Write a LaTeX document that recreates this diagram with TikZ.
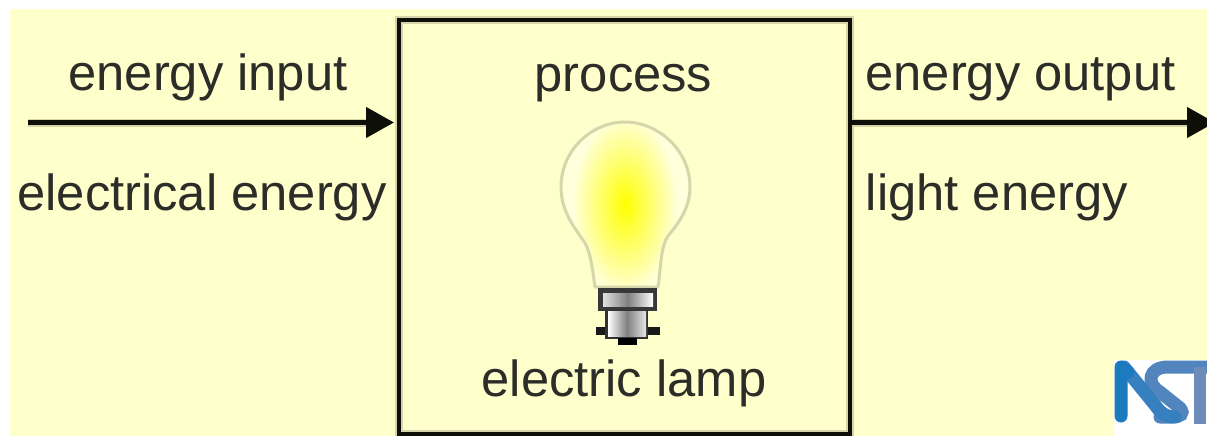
\documentclass[tikz,border=0pt]{standalone}
\usepackage{fontspec}
\setmainfont{Liberation Sans}
\usetikzlibrary{arrows.meta}
\definecolor{paper}{RGB}{255,255,204}
\definecolor{ink}{RGB}{15,15,10}
\definecolor{halo}{RGB}{214,212,168}
\definecolor{logoA}{RGB}{28,122,190}
\definecolor{logoB}{RGB}{55,128,192}
\definecolor{logoC}{RGB}{82,133,190}
\definecolor{logoD}{RGB}{110,140,185}
\tikzset{
  x=1pt,y=-1pt,
  lbl/.style={font=\fontsize{50.7}{55}\selectfont,text=ink!88!white,inner sep=0pt,anchor=base},
  flow/.style={line width=4.6pt,draw=ink,-{Triangle[length=28pt,width=30pt]}},
  flowhalo/.style={line width=8pt,draw=halo},
  boxed/.style={draw=ink,line width=4pt,inner sep=0pt,minimum width=451pt,minimum height=414pt},
  boxhalo/.style={draw=halo,line width=8pt},
  bulbline/.style={draw=black!16!paper,line width=3pt,line join=round},
}
\begin{document}
\begin{tikzpicture}
\useasboundingbox (0,0) rectangle (1207,436);
\fill[white] (0,0) rectangle (1207,436);
\fill[paper] (10,9) rectangle (1207,436);
% process box
\draw[boxhalo] (399,20) rectangle (850,434);
\node[boxed] (box) at (624.5,227) {};
% labels
\node[lbl] (inlab) at (208,90) {energy input};
\node[lbl] (elab) at (202,210) {electrical energy};
\node[lbl] (plab) at (623.5,91) {process};
\node[lbl] (outlab) at (1020.5,90) {energy output};
\node[lbl] (llab) at (997,210) {light energy};
\node[lbl] (lamplab) at (624,396) {electric lamp};
% connectors
\coordinate (instart) at (28,122.5);
\coordinate (inhead) at (370,122.5);
\coordinate (outhead) at (1190,122.5);
\coordinate (outend) at (1215,122.5);
\draw[flowhalo] (instart) -- (inhead);
\draw[flowhalo] (box.east |- outend) -- (outhead);
\draw[flow,shorten >=3pt] (instart) -- (box.west |- instart);
\draw[flow] (box.east |- outend) -- (outend);
% bulb
\def\bulbpath{(595,287) .. controls (592,265) and (590,252) .. (585,243)
   .. controls (575,228) and (561,212) .. (561,187)
   .. controls (561,150) and (592,122) .. (625,122)
   .. controls (658,122) and (690,150) .. (690,187)
   .. controls (690,210) and (676,226) .. (668,236)
   .. controls (661,246) and (661,265) .. (658,287) -- cycle}
\begin{scope}
\clip \bulbpath;
\fill[white!30!paper] (550,115) rectangle (700,295);
\shade[inner color=yellow,outer color=white!30!paper] (625,205) ellipse (52 and 90);
\end{scope}
\draw[bulbline] \bulbpath;
% cap
\fill[black!78] (598,288) rectangle (657,311);
\fill[left color=white!75!gray,right color=white,middle color=gray] (603,293) rectangle (653,306);
\fill[black!90] (596,327) rectangle (660,335);
\fill[black!80] (605,310) rectangle (648,339);
\fill[left color=white,right color=white!80!gray,middle color=gray] (608,311) rectangle (646,336);
\fill[black] (618,338) rectangle (637,345);
% logo
\begin{scope}
\clip (1114,360) rectangle (1207,436);
\fill[white] (1114,360) rectangle (1207,436);
\draw[line width=13pt,line cap=round,draw=logoC] (1207,367) -- (1168,367) .. controls (1148,367) and (1146,384) .. (1160,392) -- (1180,408) .. controls (1185,414) and (1180,417) .. (1172,417) -- (1160,417);
\draw[line width=13pt,line cap=round,draw=logoB] (1124,367) -- (1155,405) .. controls (1160,412) and (1165,417) .. (1175,417);
\draw[line width=13pt,line cap=round,line join=round,draw=logoA] (1121,416) -- (1121,367) -- (1128,372);
\draw[line width=12pt,draw=logoD] (1200,367) -- (1200,424);
\end{scope}
\end{tikzpicture}
\end{document}
